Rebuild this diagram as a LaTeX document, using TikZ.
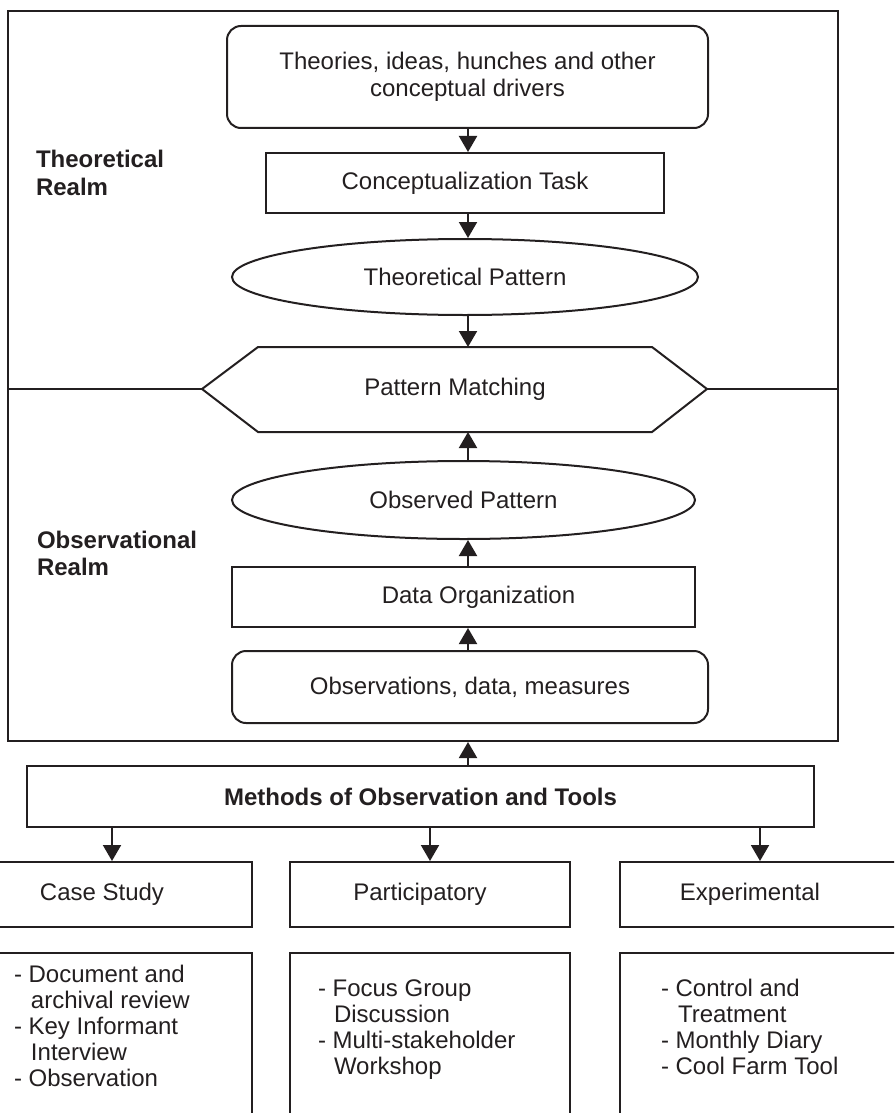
\documentclass[tikz,border=0pt]{standalone}
\usepackage{fontspec}
\setmainfont{Liberation Sans}
\usetikzlibrary{shapes.geometric,arrows.meta,calc}
\definecolor{ink}{RGB}{35,31,32}
\begin{document}
\begin{tikzpicture}[x=0.5pt,y=-0.5pt, line width=1pt, color=ink,
  every node/.style={font=\fontsize{12}{13.5}\selectfont, inner sep=0pt},
  bfont/.style={font=\bfseries\fontsize{12}{13.5}\selectfont},
  lfont/.style={font=\fontsize{12}{13}\selectfont},
  box/.style={draw, rectangle},
  rbox/.style={draw, rectangle, rounded corners=7pt},
  oval/.style={draw, ellipse},
  arr/.style={-{Triangle[length=8pt,width=9pt]}},
]
\useasboundingbox (0,0) rectangle (894,1113);
\clip (0,0) rectangle (894,1113);

\coordinate (spine) at (468,0);

% outer frame
\node[box, minimum width=415pt, minimum height=365pt] (outer) at (423,376) {};

% realm labels
\node[bfont, anchor=base west] (thr) at (35,168)
  {\begin{tabular}[t]{@{}l@{}}Theoretical\\Realm\end{tabular}};
\node[bfont, anchor=base west] (obr) at (36,548)
  {\begin{tabular}[t]{@{}l@{}}Observational\\Realm\end{tabular}};

% theoretical chain
\node[rbox, minimum width=240.5pt, minimum height=51pt, align=center] (th) at (467.5,77)
  {Theories, ideas, hunches and other\\conceptual drivers};
\node[box, minimum width=199pt, minimum height=30pt] (ct) at (465,183) {Conceptualization Task};
\node[oval, minimum width=233pt, minimum height=38pt] (tp) at (465,277) {Theoretical Pattern};

% pattern matching hexagon
\coordinate (hxL) at (202,389);
\coordinate (hxTL) at (258,347);
\coordinate (hxTR) at (652,347);
\coordinate (hxR) at (707,389);
\coordinate (hxBR) at (652,432);
\coordinate (hxBL) at (258,432);
\coordinate (hxT) at (468,347);
\coordinate (hxB) at (468,432);
\draw (hxL) -- (hxTL) -- (hxTR) -- (hxR) -- (hxBR) -- (hxBL) -- cycle;
\node (pm) at (455,389) {Pattern Matching};
\draw (outer.west |- hxL) -- (hxL);
\draw (hxR) -- (outer.east |- hxR);

% observational chain
\node[oval, minimum width=231.5pt, minimum height=39pt] (op) at (463.5,500) {Observed Pattern};
\node[box, minimum width=231.5pt, minimum height=30pt] (dorg) at (463.5,597) {\hspace*{15pt}Data Organization};
\node[rbox, minimum width=238pt, minimum height=36pt] (obs) at (470,687) {Observations, data, measures};

\draw[arr] (th.south -| spine) -- (ct.north -| spine);
\draw[arr] (ct.south -| spine) -- (tp.north -| spine);
\draw[arr] (tp.south -| spine) -- (hxT);
\draw[arr] (op.north -| spine) -- (hxB);
\draw[arr] (dorg.north -| spine) -- (op.south -| spine);
\draw[arr] (obs.north -| spine) -- (dorg.south -| spine);

% methods
\node[box, bfont, minimum width=393.5pt, minimum height=30.5pt] (meth) at (420.5,796.5)
  {Methods of Observation and Tools};
\draw[arr] (meth.north -| spine) -- (outer.south -| spine);

\node[box, minimum width=140pt, minimum height=32.5pt] (cs) at (112,894.5) {Case Study\hspace*{10pt}};
\node[box, minimum width=140pt, minimum height=32.5pt] (pa) at (430,894.5) {Participatory\hspace*{10pt}};
\node[box, minimum width=140pt, minimum height=32.5pt] (ex) at (760,894.5) {Experimental\hspace*{10pt}};
\draw[arr] (meth.south -| cs) -- (cs.north);
\draw[arr] (meth.south -| pa) -- (pa.north);
\draw[arr] (meth.south -| ex) -- (ex.north);

% lists
\node[box, minimum width=140pt, minimum height=100pt, anchor=north] (csl) at (112,952) {};
\node[box, minimum width=140pt, minimum height=100pt, anchor=north] (pal) at (430,952) {};
\node[box, minimum width=140pt, minimum height=100pt, anchor=north] (exl) at (760,952) {};

\node[lfont, anchor=base west] (cst) at (13,982)
  {\begin{tabular}[t]{@{}l@{}}- Document and\\\hspace*{8.5pt}archival review\\- Key Informant\\\hspace*{8.5pt}Interview\\- Observation\end{tabular}};
\node[lfont, anchor=base west] (pat) at (317,996)
  {\begin{tabular}[t]{@{}l@{}}- Focus Group\\\hspace*{8pt}Discussion\\- Multi-stakeholder\\\hspace*{8pt}Workshop\end{tabular}};
\node[lfont, anchor=base west] (ext) at (660,996)
  {\begin{tabular}[t]{@{}l@{}}- Control and\\\hspace*{8.5pt}Treatment\\- Monthly Diary\\- Cool Farm Tool\end{tabular}};
\end{tikzpicture}
\end{document}
